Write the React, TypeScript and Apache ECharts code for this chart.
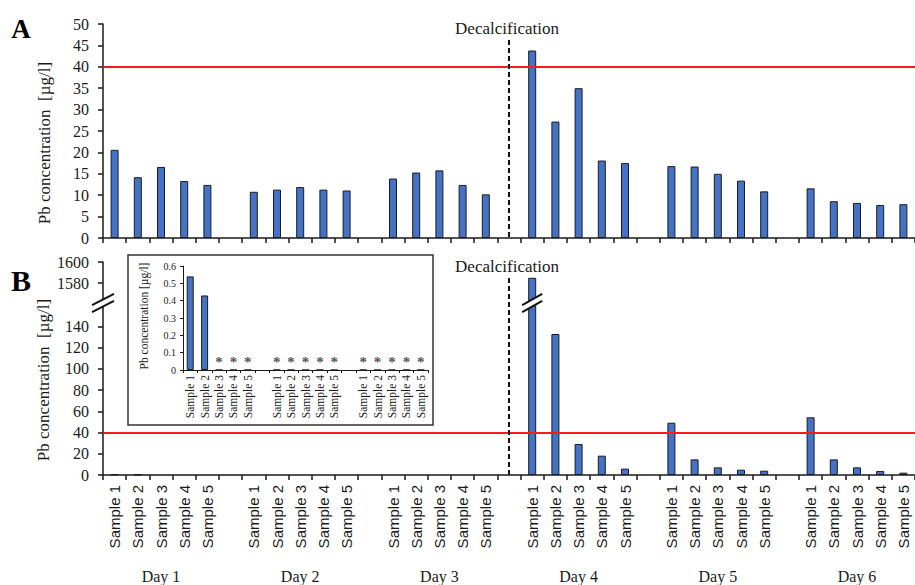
import { useEffect, useRef } from 'react';
import * as echarts from 'echarts';

const days = ['Day 1', 'Day 2', 'Day 3', 'Day 4', 'Day 5', 'Day 6'];
const samples = ['Sample 1', 'Sample 2', 'Sample 3', 'Sample 4', 'Sample 5'];

// Panel A: Pb concentration [µg/l], per day, samples 1-5
const panelA: number[][] = [
  [20.6, 14.2, 16.6, 13.3, 12.4],
  [10.8, 11.3, 11.9, 11.3, 11.1],
  [13.9, 15.3, 15.8, 12.4, 10.2],
  [43.8, 27.2, 35.0, 18.1, 17.5],
  [16.8, 16.7, 15.0, 13.4, 10.9],
  [11.6, 8.6, 8.2, 7.7, 7.9],
];

// Panel B: Pb concentration [µg/l] (0 = below detection limit, shown as *)
const panelB: number[][] = [
  [0.54, 0.43, 0, 0, 0],
  [0, 0, 0, 0, 0],
  [0, 0, 0, 0, 0],
  [1585, 132.7, 29.2, 18.2, 6.0],
  [49.2, 14.7, 7.2, 5.0, 4.1],
  [54.3, 14.7, 7.2, 3.8, 2.2],
];

const threshold = 40;
const upperTicksB = [1580, 1600];
const lowerTicksB = [0, 20, 40, 60, 80, 100, 120, 140];
const decalcAfterDay = 3; // decalcification between day 3 and day 4
const insetDays = 3;

const SERIF = 'Liberation Serif';
const SANS = 'Liberation Sans';
const INK = '#1a1a1a';
const BAR = '#4472C4';

function buildCats(n: number) {
  const cats: string[] = [];
  const dayCats: string[] = [];
  for (let d = 0; d < n; d++) {
    samples.forEach((s, i) => {
      cats.push(days[d] + '|' + s);
      dayCats.push(i === 2 ? days[d] : '');
    });
    if (d < n - 1) {
      cats.push('gap' + d);
      dayCats.push('');
    }
  }
  return { cats, dayCats };
}

function flat(arr: number[][], n: number) {
  const out: (number | string)[] = [];
  arr.slice(0, n).forEach((g, d) => {
    out.push(...g);
    if (d < n - 1) out.push('-');
  });
  return out;
}

const sampleLabel = (v: string) => (v.indexOf('|') >= 0 ? v.split('|')[1] : '');

export default function App() {
  const ref = useRef<HTMLDivElement>(null);

  useEffect(() => {
    if (!ref.current) return;
    const chart = echarts.init(ref.current, null, { renderer: 'svg' });

    const all = buildCats(days.length);
    const ins = buildCats(insetDays);
    const dataA = flat(panelA, days.length);
    const dataB = flat(panelB, days.length);
    const dataBMain = dataB.map((v) => (v === 0 ? '-' : v));
    const dataInset = flat(panelB, insetDays);
    const upperMin = 1563;
    const dataBUpper = dataB.map((v) => (typeof v === 'number' && v > upperMin ? v : '-'));

    const L = 103;
    const W = 817;
    const barStyle = { color: BAR, borderColor: '#1c1c1c', borderWidth: 1 };
    const redLine = {
      silent: true,
      symbol: 'none',
      label: { show: false },
      lineStyle: { color: '#ff1a1a', width: 2, type: 'solid' },
      data: [{ yAxis: threshold }],
    };
    const axisLine = { show: true, lineStyle: { color: INK, width: 1.5 } };
    const tick = { show: true, length: 5, lineStyle: { color: INK, width: 1.5 } };
    const plain = (v: number) => String(v);

    const option: any = {
      animation: false,
      backgroundColor: '#fff',
      grid: [
        { left: L, top: 24, width: W, height: 214 },
        { left: L, top: 262, width: W, height: 39 },
        { left: L, top: 305, width: W, height: 170 },
        { left: 183, top: 266, width: 245, height: 104 },
      ],
      xAxis: [
        {
          type: 'category', gridIndex: 0, data: all.cats,
          axisLine, axisTick: { ...tick, interval: 0 }, axisLabel: { show: false },
        },
        { type: 'category', gridIndex: 1, data: all.cats, show: false },
        {
          type: 'category', gridIndex: 2, data: all.cats, position: 'bottom',
          axisLine, axisTick: { ...tick, interval: 0 },
          axisLabel: {
            interval: 0, rotate: 90, margin: 10, fontFamily: SANS, fontSize: 15, color: INK,
            formatter: sampleLabel,
          },
        },
        {
          type: 'category', gridIndex: 2, data: all.dayCats.map((d, i) => d || 'e' + i), position: 'bottom',
          axisLine: { show: false }, axisTick: { show: false },
          axisLabel: {
            interval: 0, margin: 93, fontFamily: SERIF, fontSize: 16, color: INK,
            formatter: (v: string) => (v.startsWith('Day') ? v : ''),
          },
        },
        {
          type: 'category', gridIndex: 3, data: ins.cats,
          axisLine: { show: true, lineStyle: { color: INK, width: 1 } },
          axisTick: { show: true, interval: 0, length: 3, lineStyle: { color: INK } },
          axisLabel: {
            interval: 0, rotate: 90, margin: 5, fontFamily: SERIF, fontSize: 11.5, color: INK,
            formatter: sampleLabel,
          },
        },
      ],
      yAxis: [
        {
          type: 'value', gridIndex: 0, min: 0, max: 50, interval: 5,
          axisLine, axisTick: tick, splitLine: { show: false },
          axisLabel: { margin: 14, fontFamily: SERIF, fontSize: 16, color: INK, formatter: plain },
        },
        {
          type: 'value', gridIndex: 1, min: upperMin, max: 1600,
          axisLine, axisTick: { ...tick, customValues: upperTicksB }, splitLine: { show: false },
          axisLabel: {
            margin: 14, fontFamily: SERIF, fontSize: 16, color: INK,
            customValues: upperTicksB, formatter: plain,
          },
        },
        {
          type: 'value', gridIndex: 2, min: 0, max: 160,
          axisLine, axisTick: { ...tick, customValues: lowerTicksB }, splitLine: { show: false },
          axisLabel: {
            margin: 14, fontFamily: SERIF, fontSize: 16, color: INK,
            customValues: lowerTicksB, formatter: plain,
          },
        },
        {
          type: 'value', gridIndex: 3, min: 0, max: 0.6, interval: 0.1,
          axisLine: { show: true, lineStyle: { color: INK, width: 1 } },
          axisTick: { show: true, length: 3, lineStyle: { color: INK } },
          splitLine: { show: false },
          axisLabel: { margin: 7, fontFamily: SERIF, fontSize: 10, color: INK },
        },
      ],
      series: [
        { type: 'bar', xAxisIndex: 0, yAxisIndex: 0, data: dataA, barWidth: 8, itemStyle: barStyle, markLine: redLine },
        { type: 'bar', xAxisIndex: 1, yAxisIndex: 1, data: dataBUpper, barWidth: 8, itemStyle: barStyle },
        { type: 'bar', xAxisIndex: 2, yAxisIndex: 2, data: dataBMain, barWidth: 8, itemStyle: barStyle, markLine: redLine },
        {
          type: 'bar', xAxisIndex: 4, yAxisIndex: 3, data: dataInset, barWidth: 7, itemStyle: barStyle,
          label: {
            show: true, position: 'top', distance: 0, fontFamily: SERIF, fontSize: 15, fontWeight: 'bold',
            color: '#555', formatter: (p: any) => (p.value === 0 ? '*' : ''),
          },
        },
      ],
    };

    chart.setOption(option);

    const decalIdx = decalcAfterDay * 6 - 1;
    const xDec = chart.convertToPixel({ xAxisIndex: 0 }, decalIdx) as number;
    let peakIdx = 0;
    dataB.forEach((v, i) => {
      if (typeof v === 'number' && v > (dataB[peakIdx] as number)) peakIdx = i;
    });
    const xPeak = chart.convertToPixel({ xAxisIndex: 2 }, peakIdx) as number;

    const breakMarks = (cx: number, cy: number, w: number) => {
      const s = 5.6;
      const g = 3.5;
      return [
        {
          type: 'polygon', z: 100,
          shape: { points: [[cx - w, cy - g + s], [cx + w, cy - g - s], [cx + w, cy + g - s], [cx - w, cy + g + s]] },
          style: { fill: '#fff' },
        },
        {
          type: 'line', z: 101,
          shape: { x1: cx - w, y1: cy - g + s, x2: cx + w, y2: cy - g - s },
          style: { stroke: '#111', lineWidth: 2 },
        },
        {
          type: 'line', z: 101,
          shape: { x1: cx - w, y1: cy + g + s, x2: cx + w, y2: cy + g - s },
          style: { stroke: '#111', lineWidth: 2 },
        },
      ];
    };

    const txt = (text: string, x: number, y: number, size: number, extra: any = {}) => ({
      type: 'text', x, y, z: 50, ...extra,
      style: {
        text, fontFamily: SERIF, fontSize: size, fill: INK,
        align: 'center', verticalAlign: 'middle', ...(extra.style || {}),
      },
    });

    chart.setOption({
      graphic: [
        {
          type: 'rect', z: 0,
          shape: { x: 128, y: 255, width: 305, height: 170 },
          style: { fill: '#fff', stroke: '#333', lineWidth: 1.5 },
        },
        {
          type: 'line', z: 10,
          shape: { x1: xDec, y1: 40, x2: xDec, y2: 238 },
          style: { stroke: '#111', lineWidth: 2, lineDash: [5, 3] },
        },
        {
          type: 'line', z: 10,
          shape: { x1: xDec, y1: 278, x2: xDec, y2: 475 },
          style: { stroke: '#111', lineWidth: 2, lineDash: [5, 3] },
        },
        txt('Decalcification', xDec - 2, 28, 17),
        txt('Decalcification', xDec - 2, 266, 17),
        txt('A', 21, 29, 27, { style: { fontWeight: 'bold', fill: '#000' } }),
        txt('B', 21, 280, 30, { style: { fontWeight: 'bold', fill: '#000' } }),
        txt('Pb concentration  [µg/l]', 44, 143, 17, { rotation: Math.PI / 2 }),
        txt('Pb concentration  [µg/l]', 43, 380, 17, { rotation: Math.PI / 2 }),
        txt('Pb concentration [µg/l]', 144, 316, 11.5, { rotation: Math.PI / 2 }),
        ...breakMarks(L, 303, 11),
        ...breakMarks(xPeak, 303, 10),
      ],
    });

    return () => chart.dispose();
  }, []);

  return (
    <div
      ref={ref}
      style={{ position: 'fixed', left: 0, top: 0, width: 915, height: 585, background: '#fff' }}
    />
  );
}
